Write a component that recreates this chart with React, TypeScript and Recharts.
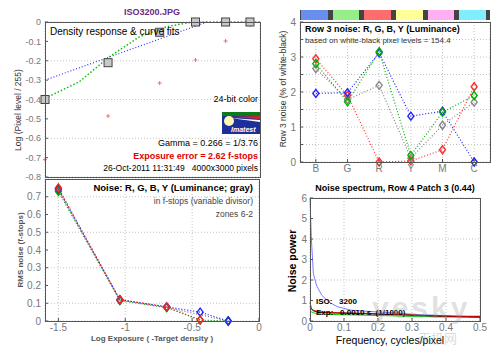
import React from "react";
import { ComposedChart, Line, Scatter, XAxis, YAxis, CartesianGrid } from "recharts";

const FONT = "'Liberation Sans', Arial, Helvetica, sans-serif";

// top left: density response
const stepLogExposure = [-1.5, -1.06, -0.7, -0.45, -0.24, -0.07];
const stepLogPixel = [-0.4, -0.21, -0.053, 0, 0, 0];
const stepRedPlus = [-0.71, -0.485, -0.315, -0.196, -0.098, -0.015];
const gammaFitX = [-1.5, -0.37];
const gammaFitY = [-0.3, 0];
const curveFitX = [-1.5, -1.26, -1.05, -0.84, -0.65, -0.47, 0];
const curveFitY = [-0.394, -0.308, -0.179, -0.076, -0.024, 0, 0];
const densityYTicks = [-0.8, -0.7, -0.6, -0.5, -0.4, -0.3, -0.2, -0.1, 0];
const exposureTicks = [-1.5, -1, -0.5, 0];

// top right: row 3 noise
const patches = ["B", "G", "R", "Y", "M", "C"];
const patchColors = ["#6a8ef0", "#96ee88", "#ff6c6c", "#ffff9a", "#ffb0f4", "#80eeff"];
const rowRed = [2.95, 1.9, 0, 0.03, 0.35, 2.15];
const rowGreen = [2.81, 1.72, 3.15, 0.19, 1.42, 1.9];
const rowBlue = [1.96, 1.98, 3.12, 1.31, 1.45, 0];
const rowGray = [2.67, 1.78, 2.19, 0.11, 1.05, 1.71];
const rowYTicks = [0, 0.5, 1, 1.5, 2, 2.5, 3, 3.5, 4];

// bottom left: noise in f-stops
const zoneX = [-1.5, -1.04, -0.69, -0.44, -0.23];
const zoneRed = [0.75, 0.12, 0.08, 0.006, null];
const zoneGreen = [0.73, 0.115, 0.075, 0.005, 0];
const zoneBlue = [0.745, 0.12, 0.08, 0.05, 0];
const zoneGray = [0.74, 0.118, 0.077, null, 0];
const fstopTicks = [0, 0.1, 0.2, 0.3, 0.4, 0.5, 0.6, 0.7];

// bottom right: noise spectrum
const freq = [0, 0.004, 0.01, 0.02, 0.035, 0.055, 0.08, 0.12, 0.17, 0.22, 0.27, 0.32, 0.37, 0.42, 0.46, 0.5];
const specBlue = [6, 4, 2.3, 1.7, 1.25, 0.93, 0.7, 0.53, 0.47, 0.42, 0.37, 0.31, 0.28, 0.25, 0.24, 0.24];
const specRed = [0.9, 0.62, 0.52, 0.46, 0.43, 0.41, 0.4, 0.39, 0.37, 0.34, 0.31, 0.28, 0.25, 0.23, 0.22, 0.21];
const specBlack = [0.7, 0.58, 0.5, 0.45, 0.42, 0.4, 0.39, 0.37, 0.35, 0.32, 0.3, 0.27, 0.24, 0.22, 0.21, 0.2];
const specGreen = [0.5, 0.45, 0.4, 0.37, 0.34, 0.32, 0.31, 0.3, 0.28, 0.26, 0.24, 0.22, 0.2, 0.19, 0.18, 0.17];
const freqTicks = [0, 0.1, 0.2, 0.3, 0.4, 0.5];
const powerTicks = [0, 1, 2, 3, 4, 5, 6];

const pts = (xs: number[], ys: (number | null)[]) => xs.map((x, i) => ({ x, y: ys[i] }));

const tickStyle = { fill: "#777", fontSize: 9, fontFamily: FONT };
const gridProps = { stroke: "#c4c4c4", strokeDasharray: "1 2" };

const Diamond = (color: string) => (p: any) => {
  const { cx, cy } = p;
  if (cx == null || cy == null) return <g key={`n${p.index}`} />;
  return (
    <path
      key={`d${p.index}`}
      d={`M${cx},${cy - 4}L${cx + 3},${cy}L${cx},${cy + 4}L${cx - 3},${cy}Z`}
      fill="none"
      stroke={color}
      strokeWidth={1.4}
    />
  );
};

const Square = (p: any) => (
  <rect x={p.cx - 4} y={p.cy - 4} width={8} height={8} fill="#c8c8c8" stroke="#444" strokeWidth={1} />
);

const Plus = (p: any) => (
  <path d={`M${p.cx - 2},${p.cy}H${p.cx + 2}M${p.cx},${p.cy - 2}V${p.cy + 2}`} stroke="#f07070" strokeWidth={1} />
);

function Txt({ x, y, a = 0, size = 9, bold = false, color = "#000", rot = false, family = FONT, spacing = 0, children }: any) {
  return (
    <div
      style={{
        position: "absolute",
        left: x,
        top: y,
        transform: `translate(${rot ? -50 : a}%, -50%)${rot ? " rotate(-90deg)" : ""}`,
        fontSize: size,
        fontWeight: bold ? "bold" : "normal",
        color,
        fontFamily: family,
        letterSpacing: spacing,
        whiteSpace: "nowrap",
        lineHeight: 1,
      }}
    >
      {children}
    </div>
  );
}

const Box = ({ x1, y1, x2, y2 }: any) => (
  <div
    style={{
      position: "absolute",
      left: x1,
      top: y1,
      width: x2 - x1,
      height: y2 - y1,
      border: "1px solid #555",
      boxSizing: "border-box",
    }}
  />
);

function Panel({ left, top, children }: any) {
  return <div style={{ position: "absolute", left, top }}>{children}</div>;
}

function DensityChart() {
  return (
    <ComposedChart width={270} height={190} margin={{ top: 22, right: 10, left: 0, bottom: 0 }}>
      <CartesianGrid {...gridProps} />
      <XAxis dataKey="x" type="number" domain={[-1.5, 0]} ticks={exposureTicks} tick={false} axisLine={false} height={13} tickSize={-3} />
      <YAxis dataKey="y" type="number" domain={[-0.8, 0]} ticks={densityYTicks} width={45} axisLine={false}
        tick={tickStyle} tickSize={-3} tickMargin={7} tickLine={{ stroke: "#555" }}
        tickFormatter={(v: number) => (v === 0 ? "0" : v.toFixed(1))} />
      <Line data={pts(gammaFitX, gammaFitY)} dataKey="y" stroke="#3030ff" strokeWidth={1.2} strokeDasharray="1 2" dot={false} isAnimationActive={false} />
      <Line data={pts(curveFitX, curveFitY)} dataKey="y" stroke="#10c010" strokeWidth={1.5} strokeDasharray="1.5 2" dot={false} isAnimationActive={false} />
      <Scatter data={pts(stepLogExposure, stepRedPlus)} shape={Plus} isAnimationActive={false} />
      <Scatter data={pts(stepLogExposure, stepLogPixel)} shape={Square} isAnimationActive={false} />
    </ComposedChart>
  );
}

function RowNoiseChart() {
  const xs = [1, 2, 3, 4, 5, 6];
  const series: [number[], string][] = [
    [rowGray, "#888"],
    [rowRed, "#ff3030"],
    [rowBlue, "#2020ff"],
    [rowGreen, "#00b000"],
  ];
  return (
    <ComposedChart width={245} height={180} margin={{ top: 22, right: 10, left: 0, bottom: 0 }}>
      <CartesianGrid {...gridProps} />
      <XAxis dataKey="x" type="number" domain={[0.5, 6.5]} ticks={xs} height={18} axisLine={false}
        tick={{ ...tickStyle, fontSize: 10 }} tickSize={-3} tickMargin={6} tickLine={{ stroke: "#555" }}
        tickFormatter={(v: number) => patches[v - 1]} />
      <YAxis dataKey="y" type="number" domain={[0, 4]} ticks={rowYTicks} width={45} axisLine={false}
        tick={{ ...tickStyle, fontSize: 10 }} tickSize={-3} tickMargin={7} tickLine={{ stroke: "#555" }}
        tickFormatter={(v: number) => (Number.isInteger(v) ? String(v) : "")} />
      {series.map(([ys, c], i) => (
        <Line key={i} data={pts(xs, ys)} dataKey="y" stroke={c} strokeWidth={1.2} strokeDasharray="1 2"
          dot={Diamond(c)} isAnimationActive={false} />
      ))}
    </ComposedChart>
  );
}

function ZoneNoiseChart() {
  const series: [(number | null)[], string][] = [
    [zoneGray, "#777"],
    [zoneGreen, "#00a000"],
    [zoneBlue, "#2020ff"],
    [zoneRed, "#ff2020"],
  ];
  return (
    <ComposedChart width={269} height={183} margin={{ top: 9, right: 10, left: 0, bottom: 0 }}>
      <CartesianGrid {...gridProps} />
      <XAxis dataKey="x" type="number" domain={[-1.6, 0]} ticks={exposureTicks} height={32} axisLine={false}
        tick={{ ...tickStyle, fontSize: 10 }} tickSize={-3} tickMargin={6} tickLine={{ stroke: "#555" }} />
      <YAxis dataKey="y" type="number" domain={[0, 0.8]} ticks={fstopTicks} width={45} axisLine={false}
        tick={{ ...tickStyle, fontSize: 10 }} tickSize={-3} tickMargin={7} tickLine={{ stroke: "#555" }}
        tickFormatter={(v: number) => (v === 0 ? "0" : v.toFixed(1))} />
      {series.map(([ys, c], i) => (
        <Line key={i} data={pts(zoneX, ys)} dataKey="y" stroke={c} strokeWidth={1.2} strokeDasharray="1 2"
          connectNulls dot={Diamond(c)} isAnimationActive={false} />
      ))}
    </ComposedChart>
  );
}

function SpectrumChart() {
  const series: [number[], string][] = [
    [specBlue, "#7a7aff"],
    [specGreen, "#00d000"],
    [specBlack, "#000"],
    [specRed, "#d00000"],
  ];
  return (
    <ComposedChart width={225} height={173} margin={{ top: 18, right: 10, left: 0, bottom: 0 }}>
      <CartesianGrid {...gridProps} />
      <XAxis dataKey="x" type="number" domain={[0, 0.5]} ticks={freqTicks} height={32} axisLine={false}
        tick={{ ...tickStyle, fontSize: 10 }} tickSize={-3} tickMargin={6} tickLine={{ stroke: "#555" }} />
      <YAxis dataKey="y" type="number" domain={[0, 6]} ticks={powerTicks} width={45} axisLine={false}
        tick={{ ...tickStyle, fontSize: 10 }} tickSize={-3} tickMargin={6} tickLine={{ stroke: "#555" }} />
      {series.map(([ys, c], i) => (
        <Line key={i} data={pts(freq, ys)} dataKey="y" stroke={c} strokeWidth={1} dot={false} isAnimationActive={false} />
      ))}
    </ComposedChart>
  );
}

function ImatestLogo() {
  return (
    <svg style={{ position: "absolute", left: 222, top: 112 }} width={38} height={22}>
      <rect x={0} y={0} width={38} height={22} fill="#1c2f9a" />
      <rect x={0} y={0} width={38} height={4} fill="#0a7a1a" />
      <path d="M8,5 L38,4 L38,7 Z" fill="#e02020" />
      <path d="M8,6 L38,8 L38,10 Z" fill="#ffffff" />
      <circle cx={7} cy={9} r={5} fill="#fff8b0" />
      <text x={9} y={20} fontSize={7} fontStyle="italic" fontWeight="bold" fill="#fff" fontFamily={FONT}>Imatest</text>
    </svg>
  );
}

function ColorBar() {
  const cell = 190 / 6;
  return (
    <div style={{ position: "absolute", left: 300, top: 10, width: 190, height: 10, background: "#444" }}>
      {patchColors.map((c, i) => (
        <div key={i} style={{ position: "absolute", left: i * cell + 1, top: 0, width: cell - 5, height: 10, background: c }} />
      ))}
    </div>
  );
}

export default function App() {
  return (
    <div style={{ position: "fixed", left: 0, top: 0, width: 500, height: 353, background: "#fff", overflow: "hidden", fontFamily: FONT }}>
      <Panel left={0} top={0}><DensityChart /></Panel>
      <Panel left={255} top={0}><RowNoiseChart /></Panel>
      <Panel left={0} top={170}><ZoneNoiseChart /></Panel>
      <Panel left={265} top={180}><SpectrumChart /></Panel>

      <Box x1={45} y1={22} x2={261} y2={178} />
      <Box x1={300} y1={22} x2={491} y2={163} />
      <Box x1={45} y1={179} x2={260} y2={322} />
      <Box x1={310} y1={198} x2={481} y2={322} />
      <ColorBar />
      <ImatestLogo />

      <Txt x={152} y={12} a={-50} size={9} bold color="#6a2a8a">ISO3200.JPG</Txt>
      <Txt x={50} y={32} size={10}>Density response &amp; curve fits</Txt>
      <Txt x={258} y={99} a={-100} size={9}>24-bit color</Txt>
      <Txt x={258} y={143} a={-100} size={9}>Gamma = 0.266 = 1/3.76</Txt>
      <Txt x={258} y={156} a={-100} size={9} bold color="#e00000">Exposure error = 2.62 f-stops</Txt>
      <Txt x={258} y={168} a={-100} size={8.5}>26-Oct-2011 11:31:49&nbsp;&nbsp;&nbsp;4000x3000 pixels</Txt>
      <Txt x={18} y={110} rot size={8.5} color="#333">Log (Pixel level / 255)</Txt>

      <Txt x={305} y={29} size={9} bold>Row 3 noise: R, G, B, Y (Luminance)</Txt>
      <Txt x={305} y={41} size={8} color="#333">based on white-black pixel levels = 154.4</Txt>
      <Txt x={283} y={89} rot size={8.5} color="#333">Row 3 noise (% of white-black)</Txt>

      <Txt x={253} y={188} a={-100} size={9.5} bold>Noise: R, G, B, Y (Luminance; gray)</Txt>
      <Txt x={253} y={201} a={-100} size={8.5} color="#444">in f-stops (variable divisor)</Txt>
      <Txt x={253} y={214} a={-100} size={8.5} color="#444">zones 6-2</Txt>
      <Txt x={21} y={250} rot size={8} bold color="#555">RMS noise (f-stops)</Txt>
      <Txt x={152} y={339} a={-50} size={8} bold color="#555">Log Exposure ( -Target density )</Txt>

      <Txt x={395} y={188} a={-50} size={9} bold>Noise spectrum, Row 4 Patch 3 (0.44)</Txt>
      <Txt x={316} y={302} size={8} bold>ISO:&nbsp;&nbsp;&nbsp;3200</Txt>
      <Txt x={316} y={313} size={8} bold>Exp:&nbsp;&nbsp;&nbsp;0.0010 s&nbsp;&nbsp;(1/1000)</Txt>
      <Txt x={292} y={261} rot size={10.5} bold>Noise power</Txt>
      <Txt x={390} y={340} a={-50} size={10.5}>Frequency, cycles/pixel</Txt>

      <Txt x={372} y={308} size={30} bold spacing={3} color="rgba(150,150,150,0.3)">yesky</Txt>
      <Txt x={418} y={337} size={13} color="rgba(150,150,150,0.35)" family="'Noto Sans CJK SC', sans-serif">天极网</Txt>
    </div>
  );
}
